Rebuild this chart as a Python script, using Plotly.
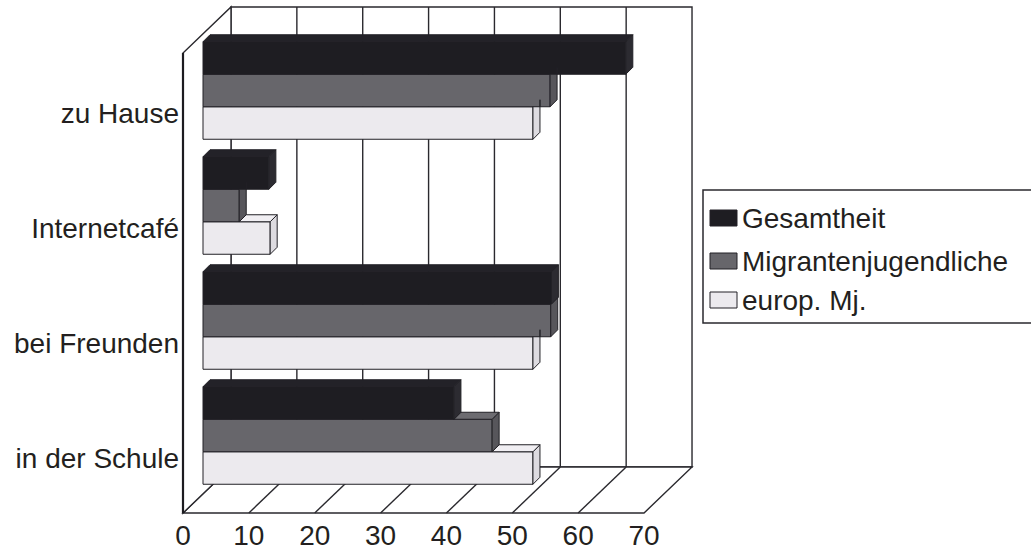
import plotly.graph_objects as go

# ---- data -------------------------------------------------------------
categories = ["zu Hause", "Internetcafé", "bei Freunden", "in der Schule"]
series_names = ["Gesamtheit", "Migrantenjugendliche", "europ. Mj."]
gesamtheit = [64.2, 10.0, 52.9, 38.1]
migranten = [52.7, 5.5, 52.8, 43.9]
europ_mj = [50.1, 10.2, 50.1, 50.1]
x_ticks = [0, 10, 20, 30, 40, 50, 60, 70]

series_values = [gesamtheit, migranten, europ_mj]
front_colors = ["#1e1d22", "#67666b", "#eceaee"]
side_colors = ["#2c2b31", "#57565b", "#dddbe0"]
top_colors = ["#232228", "#6d6c71", "#f1eff3"]
edge = "#222126"

# ---- figure geometry (px) --------------------------------------------
W, H = 1031, 550
M_L, M_R, M_T, M_B = 180, 335, 4, 34
PX_X = 6.586          # px per value unit
PX_Y = 115.0          # px per category band
X0_PX, Y0_PX = 183, 513   # front-plane origin

n_cat = len(categories)
x_max = x_ticks[-1]

# pseudo-3D offsets in data units
DXW, DYW = 48 / PX_X, 46 / PX_Y      # full depth of the walls
BX, BY = 20 / PX_X, 20 / PX_Y        # plane where the bars sit
BAR_H = 32.5 / PX_Y                  # bar thickness
DDX, DDY = 7 / PX_X, 7 / PX_Y        # bar depth

x_lo = (M_L - X0_PX) / PX_X
x_hi = (W - M_R - X0_PX) / PX_X
y_lo = (Y0_PX - (H - M_B)) / PX_Y
y_hi = (Y0_PX - M_T) / PX_Y


def paper_x(px):
    return (px - M_L) / (W - M_L - M_R)


def paper_y(py):
    return (H - M_B - py) / (H - M_T - M_B)


fig = go.Figure()
shapes = []
wall_line = dict(color="#2a292e", width=1.4)

# back wall with its vertical gridlines
shapes.append(dict(type="rect", xref="x", yref="y", layer="below",
                   x0=DXW, x1=DXW + x_max, y0=DYW, y1=DYW + n_cat,
                   fillcolor="white", line=wall_line))
for t in x_ticks[1:-1]:
    shapes.append(dict(type="line", xref="x", yref="y", layer="below",
                       x0=DXW + t, x1=DXW + t, y0=DYW, y1=DYW + n_cat,
                       line=wall_line))

# floor with its diagonal gridlines
floor_path = (f"M0,0 L{x_max},0 L{x_max + DXW},{DYW} L{DXW},{DYW} Z")
shapes.append(dict(type="path", xref="x", yref="y", layer="below",
                   path=floor_path, fillcolor="white", line=wall_line))
for t in x_ticks[1:-1]:
    shapes.append(dict(type="line", xref="x", yref="y", layer="below",
                       x0=t, x1=t + DXW, y0=0, y1=DYW, line=wall_line))

# left wall
left_path = (f"M0,0 L0,{n_cat} L{DXW},{n_cat + DYW} L{DXW},{DYW} Z")
shapes.append(dict(type="path", xref="x", yref="y", layer="below",
                   path=left_path, fillcolor="white", line=wall_line))
shapes.append(dict(type="line", xref="x", yref="y", layer="below",
                   x0=0, x1=0, y0=0, y1=n_cat,
                   line=dict(color="#1c1b20", width=2.2)))

# ---- bars -------------------------------------------------------------
def bar_center(cat_i, k):
    pos = n_cat - 1 - cat_i
    return pos + 0.5 + BY + BAR_H * (1 - k)


# front faces, bottom series first
for k in reversed(range(len(series_names))):
    vals = series_values[k]
    fig.add_trace(go.Bar(
        orientation="h",
        y=[bar_center(i, k) for i in range(n_cat)],
        x=vals,
        base=BX,
        width=BAR_H,
        marker=dict(color=front_colors[k], line=dict(color=edge, width=1)),
        name=series_names[k],
        showlegend=False,
        hoverinfo="skip",
    ))

# top and side faces, clipped where the bar above hides them
for k in reversed(range(len(series_names))):
    vals = series_values[k]
    top_x, top_y, side_x, side_y = [], [], [], []
    for i in range(n_cat):
        v = BX + vals[i]
        yc = bar_center(i, k)
        yb, yt = yc - BAR_H / 2, yc + BAR_H / 2
        upper = BX + series_values[k - 1][i] if k > 0 else BX
        # top face
        s = min(upper, v)
        if v > s:
            top_x += [s, v, v + DDX, s + DDX, s, None]
            top_y += [yt, yt, yt + DDY, yt + DDY, yt, None]
        # side face
        u = max(v, min(upper, v + DDX)) if k > 0 else v
        side_x += [v, v + DDX, v + DDX, u, u, v, v, None]
        side_y += [yb, yb + DDY, yt + DDY, yt + DDY * (u - v) / DDX, yt,
                   yt, yb, None]
    fig.add_trace(go.Scatter(
        x=side_x, y=side_y, mode="lines", fill="toself",
        fillcolor=side_colors[k], line=dict(color=edge, width=1),
        showlegend=False, hoverinfo="skip"))
    if top_x:
        fig.add_trace(go.Scatter(
            x=top_x, y=top_y, mode="lines", fill="toself",
            fillcolor=top_colors[k], line=dict(color=edge, width=1),
            showlegend=False, hoverinfo="skip"))

# ---- legend box -------------------------------------------------------
font_family = "Liberation Sans, Arial, Helvetica, sans-serif"
FS = 28
shapes.append(dict(type="rect", xref="paper", yref="paper",
                   x0=paper_x(703), x1=paper_x(1045),
                   y0=paper_y(323), y1=paper_y(190),
                   fillcolor="white", line=dict(color="#2a292e", width=1.5)))
annotations = []
legend_rows = [218, 261, 300]
for k, name in enumerate(series_names):
    cy = legend_rows[k]
    shapes.append(dict(type="rect", xref="paper", yref="paper",
                       x0=paper_x(710), x1=paper_x(737),
                       y0=paper_y(cy + 8), y1=paper_y(cy - 8),
                       fillcolor=front_colors[k],
                       line=dict(color=edge, width=1)))
    annotations.append(dict(xref="paper", yref="paper",
                            x=paper_x(740), y=paper_y(cy),
                            xanchor="left", yanchor="middle",
                            text=name, showarrow=False,
                            font=dict(family=font_family, size=FS,
                                      color="#231f20")))

fig.update_layout(
    width=W, height=H,
    margin=dict(l=M_L, r=M_R, t=M_T, b=M_B, pad=0),
    paper_bgcolor="white", plot_bgcolor="white",
    barmode="overlay",
    shapes=shapes,
    annotations=annotations,
    showlegend=False,
    font=dict(family=font_family, size=FS, color="#231f20"),
    xaxis=dict(range=[x_lo, x_hi], tickvals=x_ticks,
               ticktext=[str(t) for t in x_ticks],
               showgrid=False, zeroline=False, showline=False,
               ticks="", automargin=False, fixedrange=True),
    yaxis=dict(range=[y_lo, y_hi],
               tickvals=[n_cat - 1 - i + 0.5 for i in range(n_cat)],
               ticktext=categories,
               showgrid=False, zeroline=False, showline=False,
               ticks="", ticklabelshift=3, automargin=False,
               fixedrange=True),
)

fig.write_html("out.html")
